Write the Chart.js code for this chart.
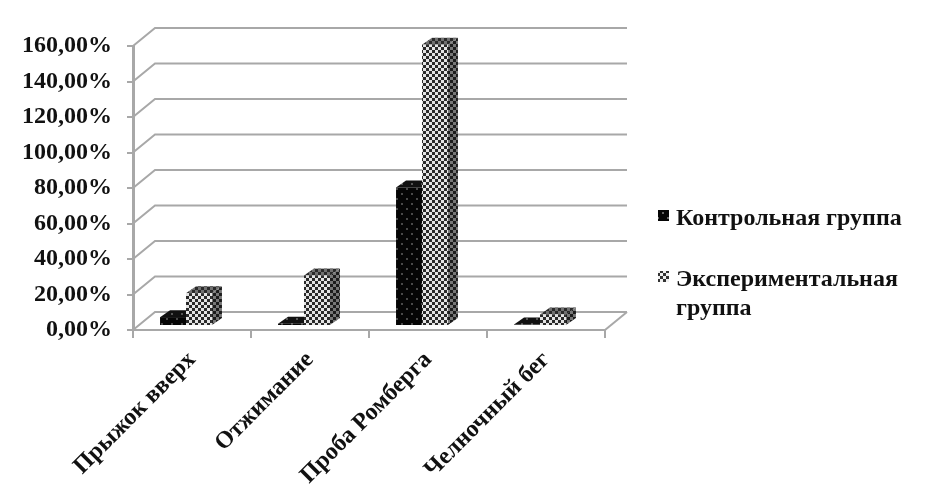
<!DOCTYPE html>
<html>
<head>
<meta charset="utf-8">
<script src="https://cdn.jsdelivr.net/npm/chart.js@4"></script>
<style>
  html, body { margin: 0; background: #fff; }
  canvas { display: block; filter: blur(0.6px); }
</style>
</head>
<body>
<canvas id="myChart" width="934" height="504"></canvas>
<script>
const categories = ['Прыжок вверх', 'Отжимание', 'Проба Ромберга', 'Челночный бег'];
const controlValues = [5, 1.3, 78, 0.8];
const experimentValues = [18.5, 28.5, 158.5, 6.5];
const seriesNames = ['Контрольная группа', 'Экспериментальная группа'];
const legendLines = [['Контрольная группа'], ['Экспериментальная', 'группа']];
const yTickLabels = ['0,00%', '20,00%', '40,00%', '60,00%', '80,00%', '100,00%', '120,00%', '140,00%', '160,00%'];

const fontName = '"Liberation Serif", serif';
const gridColor = '#a8a8a8';

// маленькие плитки для штриховки столбиков
function makeDots(ink, paper) {
    const c = document.createElement('canvas');
    c.width = 10; c.height = 10;
    const p = c.getContext('2d');
    p.fillStyle = ink;
    p.fillRect(0, 0, 10, 10);
    p.fillStyle = paper;
    p.fillRect(2, 2, 2, 2);
    p.fillRect(7, 7, 2, 2);
    return p.createPattern(c, 'repeat');
}
function makeChecks(ink, paper) {
    const c = document.createElement('canvas');
    c.width = 6; c.height = 6;
    const p = c.getContext('2d');
    p.fillStyle = paper;
    p.fillRect(0, 0, 6, 6);
    p.fillStyle = ink;
    p.fillRect(0, 0, 3, 3);
    p.fillRect(3, 3, 3, 3);
    return p.createPattern(c, 'repeat');
}

const fills = [makeDots('#050505', '#4a4a4a'), makeChecks('#2a2a2a', '#e4e4e4')];
const sideFills = [makeDots('#000', '#333'), makeChecks('#1c1c1c', '#777')];
const topFills = [makeDots('#111', '#555'), makeChecks('#2a2a2a', '#707070')];

// сдвиг плоскости столбиков относительно передней оси
const barShift = { x: -6, y: -4 };
const wallDepth = { x: 22, y: -18 };
const barDepth = { x: 10, y: -7 };

function poly(ctx, pts, fill) {
    ctx.beginPath();
    pts.forEach((pt, i) => i ? ctx.lineTo(pt[0], pt[1]) : ctx.moveTo(pt[0], pt[1]));
    ctx.closePath();
    ctx.fillStyle = fill;
    ctx.fill();
}

const wallsAndBars = {
    id: 'wallsAndBars',
    beforeDatasetsDraw(chart) {
        const ctx = chart.ctx;
        const y = chart.scales.y;
        const area = chart.chartArea;

        // задняя стенка и боковые грани сетки
        ctx.save();
        ctx.strokeStyle = gridColor;
        ctx.lineWidth = 2;
        y.ticks.forEach((t, i) => {
            const py = y.getPixelForTick(i);
            ctx.beginPath();
            ctx.moveTo(area.left, py);
            ctx.lineTo(area.left + wallDepth.x, py + wallDepth.y);
            ctx.lineTo(area.right + wallDepth.x, py + wallDepth.y);
            ctx.stroke();
        });
        const py0 = y.getPixelForValue(0);
        ctx.beginPath();
        ctx.moveTo(area.right, py0);
        ctx.lineTo(area.right + wallDepth.x, py0 + wallDepth.y);
        ctx.stroke();
        ctx.restore();

        // боковые и верхние грани, передние рисует сама библиотека
        ctx.save();
        ctx.translate(barShift.x, barShift.y);
        chart.data.datasets.forEach((ds, d) => {
            chart.getDatasetMeta(d).data.forEach(bar => {
                const p = bar.getProps(['x', 'y', 'base', 'width'], true);
                const l = p.x - p.width / 2, r = p.x + p.width / 2;
                const dx = barDepth.x, dy = barDepth.y;
                poly(ctx, [[r, p.y], [r + dx, p.y + dy], [r + dx, p.base + dy], [r, p.base]], sideFills[d]);
                poly(ctx, [[l, p.y], [l + dx, p.y + dy], [r + dx, p.y + dy], [r, p.y]], topFills[d]);
            });
        });
        ctx.restore();
        ctx.save();
        ctx.translate(barShift.x, barShift.y);
    },
    afterDatasetsDraw(chart) {
        chart.ctx.restore();
    },
    afterDraw(chart) {
        // легенда справа, с переносом строки
        const ctx = chart.ctx;
        const rows = [225, 286];
        const markers = [makeDots('#050505', '#666'), makeChecks('#333', '#f0f0f0')];
        ctx.save();
        ctx.font = 'bold 24px ' + fontName;
        ctx.textBaseline = 'alphabetic';
        legendLines.forEach((lines, i) => {
            ctx.fillStyle = markers[i];
            ctx.fillRect(658, rows[i] - 15, 11, 11);
            ctx.fillStyle = '#111';
            lines.forEach((line, j) => ctx.fillText(line, 676, rows[i] + j * 29));
        });
        ctx.restore();
    }
};

new Chart(document.getElementById('myChart').getContext('2d'), {
    type: 'bar',
    data: {
        labels: categories,
        datasets: [
            { label: seriesNames[0], data: controlValues, backgroundColor: fills[0], borderWidth: 0 },
            { label: seriesNames[1], data: experimentValues, backgroundColor: fills[1], borderWidth: 0 }
        ]
    },
    options: {
        responsive: false,
        animation: false,
        layout: { padding: { left: 0, top: 46, right: 329, bottom: 0 } },
        datasets: { bar: { categoryPercentage: 0.44, barPercentage: 1 } },
        plugins: { legend: { display: false }, tooltip: { enabled: false } },
        scales: {
            x: {
                afterFit(scale) { scale.height = 174; },
                border: { color: gridColor, width: 2 },
                grid: { drawOnChartArea: false, color: gridColor, lineWidth: 2, tickLength: 8 },
                ticks: {
                    autoSkip: false,
                    minRotation: 45,
                    maxRotation: 45,
                    padding: 8,
                    color: '#111',
                    font: { family: fontName, size: 24, weight: 'bold' }
                }
            },
            y: {
                min: 0,
                max: 160,
                afterFit(scale) { scale.width = 133; },
                border: { color: gridColor, width: 3 },
                grid: { drawOnChartArea: false, color: gridColor, lineWidth: 2, tickLength: 6 },
                ticks: {
                    stepSize: 20,
                    padding: 15,
                    color: '#111',
                    font: { family: fontName, size: 24, weight: 'bold' },
                    callback: (value, index) => yTickLabels[index]
                }
            }
        }
    },
    plugins: [wallsAndBars]
});
</script>
</body>
</html>
